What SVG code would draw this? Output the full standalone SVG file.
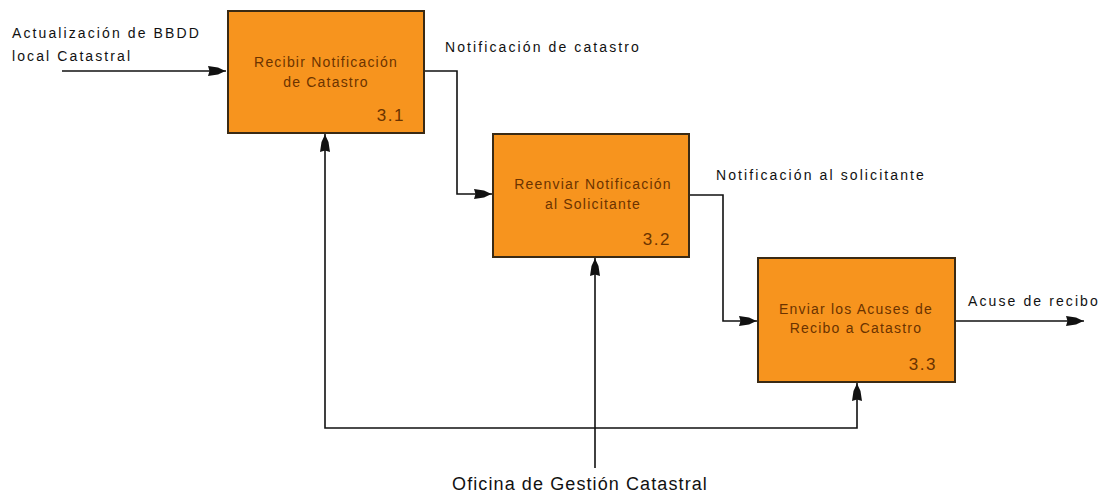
<svg xmlns="http://www.w3.org/2000/svg" width="1111" height="496" viewBox="0 0 1111 496">
<style>
.box{fill:#f7941e;stroke:#3a2a14;stroke-width:2}
.bt{font-family:"Liberation Sans",Arial,sans-serif;font-size:14px;fill:#6b3300;text-anchor:middle;letter-spacing:1.2px}
.num{font-family:"Liberation Sans",Arial,sans-serif;font-size:17px;fill:#6b3300;text-anchor:end;letter-spacing:1.5px}
.lbl{font-family:"Liberation Sans",Arial,sans-serif;font-size:14px;fill:#111;letter-spacing:2.1px}
.ln{fill:none;stroke:#111;stroke-width:1.6}
</style>
<defs>
<marker id="ah" viewBox="0 0 18 11" refX="18" refY="5.5" markerWidth="18" markerHeight="11" markerUnits="userSpaceOnUse" orient="auto">
<path d="M0,0.5 L10,2 L17.5,5.5 L10,9 L0,10.5 L1.5,5.5 z" fill="#111"/>
</marker>
</defs>
<rect width="1111" height="496" fill="#fff"/>
<g id="connectors">
<path class="ln" d="M62,71 H226" marker-end="url(#ah)"/>
<path class="ln" d="M424,71 H457 V194 H492" marker-end="url(#ah)"/>
<path class="ln" d="M689,195 H723 V321 H757" marker-end="url(#ah)"/>
<path class="ln" d="M955,321 H1084" marker-end="url(#ah)"/>
<path class="ln" d="M595,468 V258" marker-end="url(#ah)"/>
<path class="ln" d="M595,428 H325 V134" marker-end="url(#ah)"/>
<path class="ln" d="M595,428 H857 V383" marker-end="url(#ah)"/>
<text class="lbl" x="12" y="38">Actualización de BBDD</text>
<text class="lbl" x="12" y="61">local Catastral</text>
<text class="lbl" x="445" y="52">Notificación de catastro</text>
<text class="lbl" x="716" y="180">Notificación al solicitante</text>
<text class="lbl" x="968" y="306">Acuse de recibo</text>
<text x="580" y="490" text-anchor="middle" style="font-family:'Liberation Sans',Arial,sans-serif;font-size:18px;fill:#111;letter-spacing:1.1px">Oficina de Gestión Catastral</text>
</g>
<g id="n31">
<rect class="box" x="228" y="11" width="196" height="122"/>
<text class="bt" x="326" y="67">Recibir Notificación</text>
<text class="bt" x="326" y="87">de Catastro</text>
<text class="num" x="405" y="121">3.1</text>
</g>
<g id="n32">
<rect class="box" x="493" y="134" width="196" height="123"/>
<text class="bt" x="593" y="189">Reenviar Notificación</text>
<text class="bt" x="593" y="209">al Solicitante</text>
<text class="num" x="671" y="245">3.2</text>
</g>
<g id="n33">
<rect class="box" x="758" y="258" width="197" height="124"/>
<text class="bt" x="856" y="314">Enviar los Acuses de</text>
<text class="bt" x="856" y="333">Recibo a Catastro</text>
<text class="num" x="937" y="370">3.3</text>
</g>
</svg>
